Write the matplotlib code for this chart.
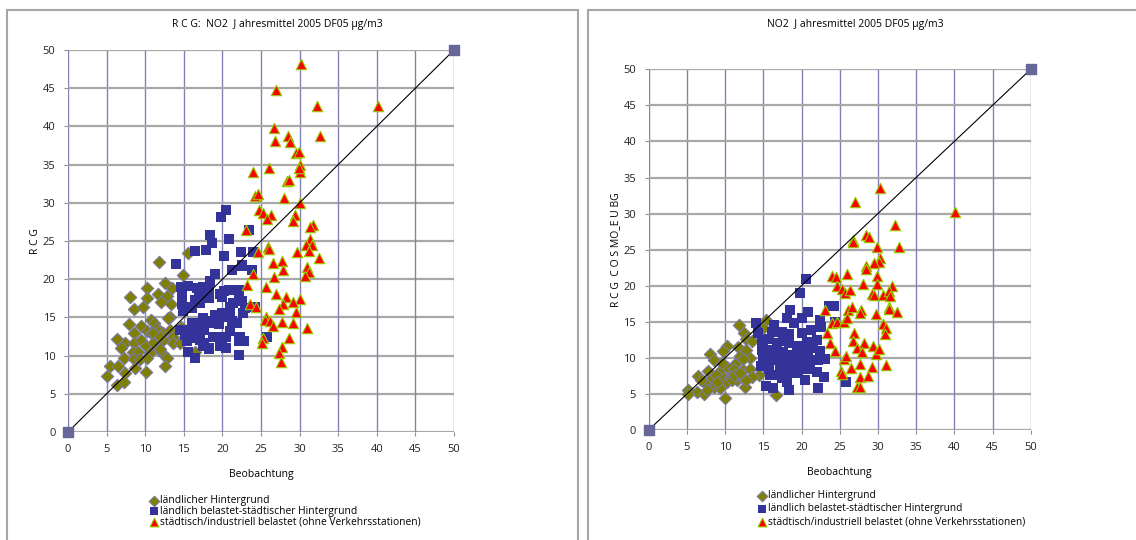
import matplotlib.pyplot as plt
from matplotlib.patches import Rectangle

plt.rcParams['font.family'] = ['Open Sans', 'DejaVu Sans']

# ---- left panel: RCG vs observation ----
l_rural_x = [11.8, 15.5, 14.9, 12.6, 10.2, 13.5, 8.0, 10.2, 11.7, 12.8, 12.1, 13.3, 8.5, 9.7, 13.2,
             13.0, 10.7, 11.1, 7.9, 9.5, 10.2, 11.5, 11.8, 12.3, 13.2, 8.5, 10.7, 11.3, 13.6, 14.7,
             6.3, 7.4, 8.5, 9.5, 10.1, 11.0, 12.3, 13.6, 14.5, 6.9, 8.4, 9.1, 10.6, 11.7, 12.3,
             7.2, 8.5, 9.3, 12.8, 5.4, 6.5, 12.6, 8.7, 7.4, 10.1, 5.0, 6.3, 7.2, 16.5, 11.9,
             10.2, 11.0, 11.9]
l_rural_y = [22.2, 23.4, 20.6, 19.5, 18.8, 18.8, 17.7, 17.5, 18.0, 17.8, 17.0, 16.8, 16.1, 16.4, 15.1,
             14.9, 14.6, 14.3, 14.2, 13.9, 13.2, 13.6, 13.2, 12.9, 13.3, 13.0, 13.0, 12.7, 12.5, 13.8,
             12.2, 11.6, 11.6, 12.0, 11.2, 11.6, 12.1, 11.6, 11.7, 11.0, 10.5, 10.5, 10.4, 10.9, 10.2,
             9.7, 9.5, 9.5, 9.7, 8.6, 8.6, 8.6, 8.4, 7.7, 7.9, 7.3, 6.2, 6.6, 10.5, 10.8,
             9.7, 12.9, 12.5]

l_suburb_x = [20.5, 19.8, 23.5, 18.4, 18.7, 20.8, 16.4, 17.9, 22.4, 24.0, 20.2, 14.0, 22.6, 21.3, 23.8,
              19.1, 18.4, 14.7, 15.6, 16.7, 17.5, 18.2, 14.8, 17.0, 17.7, 18.3, 19.7, 20.0, 20.2, 20.8,
              22.1, 22.2, 16.4, 17.1, 14.8, 15.4, 16.0, 14.9, 21.0, 21.4, 22.5, 22.9, 24.2, 22.7, 19.0,
              19.9, 20.2, 21.0, 19.2, 17.5, 17.1, 18.2, 18.8, 16.0, 19.5, 21.2, 21.9, 14.5, 15.6, 16.7,
              17.0, 17.6, 21.0, 15.1, 15.8, 16.7, 18.8, 19.7, 20.5, 22.3, 25.8, 15.4, 17.1, 17.6, 22.2,
              22.8, 15.6, 17.5, 18.2, 19.7, 20.5, 22.1, 16.4, 18.2, 20.0, 24.0, 22.6]
l_suburb_y = [29.0, 28.2, 26.5, 25.8, 24.8, 25.2, 23.7, 23.8, 23.6, 23.5, 23.1, 22.0, 21.9, 21.2, 21.2,
              20.7, 19.8, 19.0, 19.1, 18.8, 19.0, 18.6, 18.0, 18.2, 17.8, 17.6, 18.1, 17.7, 18.5, 18.6,
              18.6, 17.9, 17.3, 16.9, 16.7, 16.4, 16.2, 15.8, 16.4, 16.9, 17.1, 16.2, 16.4, 15.6, 15.3,
              15.6, 15.1, 15.3, 14.9, 14.9, 14.3, 14.3, 14.5, 14.3, 14.2, 14.5, 14.3, 13.4, 13.4, 13.2,
              13.7, 13.4, 13.2, 12.7, 12.3, 12.3, 12.5, 12.5, 12.4, 12.5, 12.5, 11.9, 12.1, 11.6, 11.9,
              11.9, 10.5, 11.3, 11.0, 11.2, 11.0, 10.1, 9.7, 10.8, 11.4, 16.3, 21.7]

l_urban_x = [30.2, 27.0, 32.2, 40.1, 26.7, 26.8, 28.5, 28.7, 32.7, 29.5, 29.9, 30.0, 30.1, 29.9, 26.1,
             24.0, 28.4, 28.6, 24.2, 24.6, 28.0, 30.0, 24.7, 25.3, 26.3, 25.8, 29.4, 29.1, 23.0, 31.8,
             31.4, 31.4, 30.8, 31.6, 31.2, 29.7, 25.9, 26.1, 24.6, 32.5, 27.7, 26.6, 23.9, 27.8, 31.0,
             31.2, 30.7, 26.7, 23.2, 25.6, 26.9, 28.2, 30.1, 29.2, 23.6, 27.9, 27.3, 24.4, 29.5, 25.7,
             25.5, 26.2, 26.5, 27.7, 29.2, 31.0, 25.3, 25.1, 28.6, 27.7, 27.3, 27.6]
l_urban_y = [48.2, 44.7, 42.7, 42.7, 39.8, 38.1, 38.7, 38.0, 38.8, 36.5, 36.7, 35.0, 34.0, 34.5, 34.5,
             34.0, 32.9, 33.0, 30.9, 31.2, 30.6, 30.0, 29.1, 28.6, 28.4, 27.9, 28.4, 27.6, 26.5, 27.1,
             26.8, 25.2, 24.5, 24.5, 23.7, 23.6, 24.2, 23.9, 23.5, 22.8, 22.4, 22.1, 20.7, 21.2, 21.6,
             20.9, 20.4, 20.3, 19.2, 19.0, 18.0, 17.7, 17.4, 17.0, 16.8, 16.8, 16.1, 16.3, 15.7, 15.1,
             14.7, 14.5, 13.9, 14.4, 14.3, 13.6, 12.3, 11.6, 12.3, 11.1, 10.4, 9.1]

# ---- right panel: RCG COSMO_EU BG vs observation ----
r_rural_x = [11.8, 15.4, 14.9, 12.5, 12.7, 13.5, 11.7, 10.2, 9.7, 8.0, 8.5, 12.0, 12.8, 13.3, 11.3,
             12.3, 6.4, 7.8, 9.6, 10.3, 11.1, 12.4, 13.3, 14.4, 8.0, 8.8, 9.8, 10.6, 11.5, 12.4,
             13.5, 7.2, 8.5, 9.3, 10.2, 10.9, 12.6, 5.2, 6.3, 7.2, 5.1, 7.6, 10.0, 16.6, 8.9,
             11.1, 12.0, 12.8, 9.6, 6.9]
r_rural_y = [14.5, 15.3, 14.2, 13.5, 12.6, 12.4, 11.5, 11.6, 10.9, 10.5, 9.7, 10.3, 11.1, 10.0, 9.2,
             9.8, 7.5, 8.2, 8.5, 8.8, 8.5, 8.3, 8.5, 7.6, 6.9, 7.6, 7.2, 7.4, 6.9, 7.2,
             7.4, 6.6, 6.0, 5.8, 6.6, 6.9, 6.0, 5.5, 5.3, 5.0, 5.0, 5.5, 4.4, 4.9, 6.7,
             7.6, 7.9, 6.9, 9.3, 6.9]

r_suburb_x = [20.6, 19.8, 18.5, 20.8, 23.6, 24.2, 14.1, 16.4, 18.1, 19.0, 20.1, 22.4, 24.4, 22.5, 16.2,
              17.5, 18.4, 20.0, 21.3, 14.9, 15.7, 16.8, 17.6, 18.3, 20.7, 22.0, 14.8, 15.9, 16.8, 19.4,
              20.2, 21.5, 22.4, 19.7, 15.0, 16.1, 17.4, 18.5, 19.6, 20.5, 21.1, 22.2, 23.1, 14.7, 15.7,
              17.2, 18.3, 19.4, 20.2, 21.1, 22.0, 15.9, 17.2, 18.5, 19.5, 20.4, 22.9, 17.4, 15.4, 16.3,
              18.1, 18.3, 22.2, 25.8, 14.3, 14.8, 16.4, 17.6, 18.7, 20.8, 16.1]
r_suburb_y = [20.9, 19.0, 16.7, 16.3, 17.2, 17.2, 14.8, 14.6, 15.5, 14.9, 15.5, 15.2, 15.0, 14.3, 13.6,
              13.6, 13.3, 13.4, 13.9, 12.5, 12.6, 12.0, 12.4, 12.0, 12.2, 12.5, 11.1, 11.1, 10.9, 11.6,
              11.3, 11.3, 11.0, 10.9, 9.9, 9.7, 9.7, 9.2, 9.5, 9.7, 9.7, 9.7, 9.9, 8.9, 8.5,
              8.8, 8.3, 8.5, 8.4, 8.5, 8.1, 7.6, 7.6, 7.9, 7.9, 6.9, 7.4, 7.2, 6.1, 5.8,
              6.6, 5.6, 5.8, 6.6, 13.4, 12.4, 10.7, 10.8, 10.4, 10.6, 9.9]

r_urban_x = [30.3, 27.0, 40.1, 32.2, 28.5, 28.8, 26.8, 26.7, 32.8, 29.9, 30.3, 30.1, 29.5, 28.5, 28.4,
             24.0, 24.5, 26.0, 29.9, 24.7, 25.3, 28.0, 29.9, 31.8, 25.7, 26.3, 29.2, 29.5, 30.7, 31.4,
             31.6, 23.1, 26.1, 26.6, 27.8, 27.7, 29.7, 31.4, 31.5, 32.5, 24.0, 24.6, 25.6, 26.0, 23.3,
             30.7, 31.1, 30.9, 26.9, 26.8, 23.7, 27.2, 28.2, 24.4, 27.9, 29.3, 29.7, 30.1, 25.5, 25.8,
             27.7, 31.1, 26.5, 29.2, 25.2, 25.3, 27.7, 28.7, 27.3, 27.6]
r_urban_y = [33.6, 31.6, 30.2, 28.4, 27.0, 26.7, 26.3, 26.0, 25.4, 25.3, 23.8, 23.3, 23.1, 22.8, 22.3,
             21.4, 21.2, 21.6, 21.4, 20.0, 19.6, 20.2, 20.2, 20.0, 19.0, 19.4, 18.9, 18.7, 18.7, 19.3,
             18.6, 16.6, 16.6, 17.1, 16.7, 16.2, 16.1, 17.1, 16.8, 16.3, 14.8, 15.0, 15.0, 15.5, 13.5,
             14.7, 14.2, 13.3, 13.5, 12.4, 12.0, 11.3, 12.0, 11.0, 10.8, 11.6, 10.6, 11.2, 9.9, 10.2,
             9.2, 9.0, 8.6, 8.8, 8.2, 7.8, 7.3, 7.5, 6.0, 5.9]

one_to_one = [0, 50]
ticks = list(range(0, 51, 5))
legend_labels = ['ländlicher Hintergrund',
                 'ländlich belastet-städtischer Hintergrund',
                 'städtisch/industriell belastet (ohne Verkehrsstationen)']

fig = plt.figure(figsize=(11.36, 5.40), dpi=100)

# panel frames
fig.patches.append(Rectangle((7 / 1136, -0.05), 571 / 1136, 1.0 - 10 / 540 + 0.05, transform=fig.transFigure,
                             fill=False, edgecolor='#a6a6a6', lw=1.5))
fig.patches.append(Rectangle((588 / 1136, -0.05), 560 / 1136, 1.0 - 10 / 540 + 0.05, transform=fig.transFigure,
                             fill=False, edgecolor='#a6a6a6', lw=1.5))

ax1 = fig.add_axes([68 / 1136, 1 - 432 / 540, 386 / 1136, 382 / 540])
ax2 = fig.add_axes([648.7 / 1136, 1 - 430 / 540, 382 / 1136, 360.7 / 540])


def draw(ax, rx, ry, sx, sy, ux, uy, ylabel, ypad):
    ax.set_xlim(0, 50)
    ax.set_ylim(0, 50)
    ax.set_xticks(ticks)
    ax.set_yticks(ticks)
    for t in ticks:
        ax.axhline(t, color='#a8a8a8', lw=1.6, zorder=0)
        ax.axvline(t, color='#8282b4', lw=1.0, zorder=0)
    for s in ax.spines.values():
        s.set_visible(False)
    ax.tick_params(length=3, color='#909090', labelsize=8, pad=6, labelcolor='#222222')
    ax.plot(one_to_one, one_to_one, color='black', lw=0.8, zorder=4)
    ax.scatter(one_to_one, one_to_one, marker='s', s=60, color='#666699', zorder=5, clip_on=False)
    d = ax.scatter(rx, ry, marker='D', s=40, color='#808000', edgecolor='#7a7aa0', lw=0.8, zorder=2)
    q = ax.scatter(sx, sy, marker='s', s=46, color='#333399', lw=0, zorder=2)
    t = ax.scatter(ux, uy, marker='^', s=56, color='#ff0000', edgecolor='#99cc00', lw=0.8, zorder=3)
    ax.set_xlabel('Beobachtung', fontsize=7.5, labelpad=10)
    ax.set_ylabel(ylabel, fontsize=7.5, labelpad=ypad)
    return [d, q, t]


h1 = draw(ax1, l_rural_x, l_rural_y, l_suburb_x, l_suburb_y, l_urban_x, l_urban_y, 'R C G', 1)
h2 = draw(ax2, r_rural_x, r_rural_y, r_suburb_x, r_suburb_y, r_urban_x, r_urban_y, 'R C G  C O S MO_E U BG', 2)

fig.text(277 / 1136, 1 - 24 / 540, 'R C G:  NO2  J ahresmittel 2005 DF05 µg/m3', ha='center', va='center', fontsize=7.5)
fig.text(855 / 1136, 1 - 24 / 540, 'NO2  J ahresmittel 2005 DF05 µg/m3', ha='center', va='center', fontsize=7.5)

fig.legend(h1, legend_labels, loc='upper left', bbox_to_anchor=(143 / 1136, 1 - 490 / 540), frameon=False,
           fontsize=7.4, handletextpad=0.0, labelspacing=-0.05, borderpad=0, handlelength=1.2,
           handleheight=0.5, markerscale=0.85)
fig.legend(h2, legend_labels, loc='upper left', bbox_to_anchor=(751 / 1136, 1 - 485 / 540), frameon=False,
           fontsize=7.3, handletextpad=0.0, labelspacing=0.2, borderpad=0, handlelength=1.2,
           handleheight=0.5, markerscale=0.85)

fig.savefig('out.png', dpi=100)
